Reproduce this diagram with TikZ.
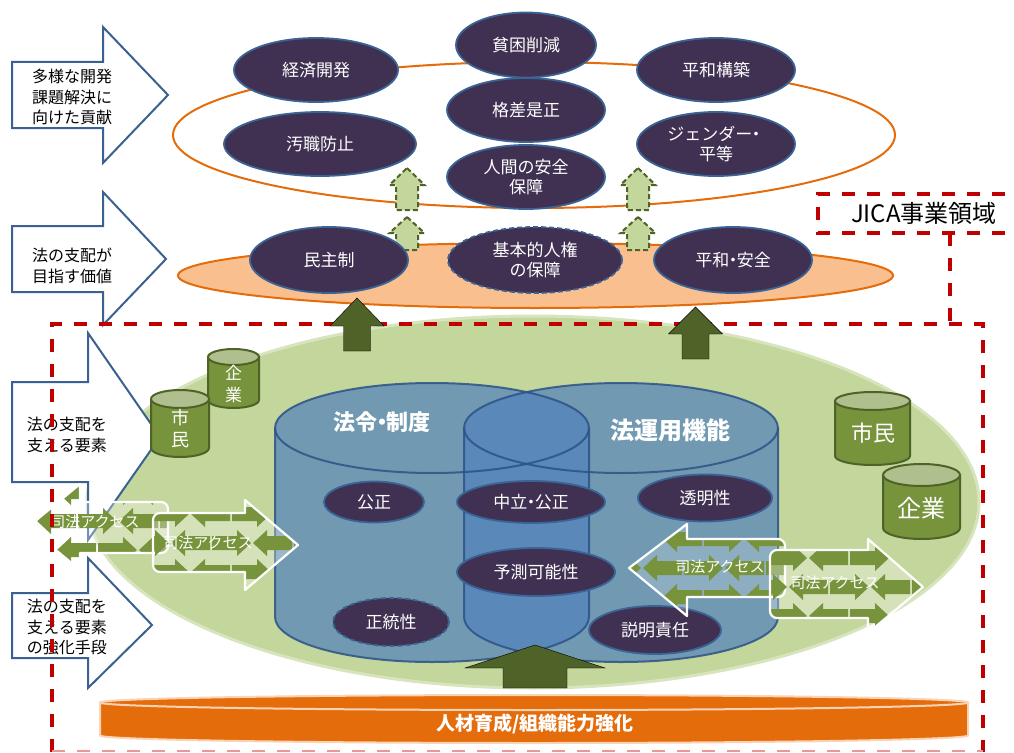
\documentclass[tikz,border=0pt]{standalone}
\usepackage{fontspec}
\setmainfont{Noto Sans CJK JP}
\usetikzlibrary{shapes.geometric}

\definecolor{pdark}{HTML}{403152}
\definecolor{pedge}{HTML}{3A6396}
\definecolor{orng}{HTML}{E46C0A}
\definecolor{orngl}{HTML}{F9BF8F}
\definecolor{orngrim}{HTML}{FAD3B4}
\definecolor{gell}{HTML}{C3D69B}
\definecolor{gellrim}{HTML}{D7E4BD}
\definecolor{olive}{HTML}{4F6228}
\definecolor{gcyl}{HTML}{77933C}
\definecolor{gtop}{HTML}{AFC08E}
\definecolor{cylblue}{HTML}{4F81BD}
\definecolor{cyledge}{HTML}{2D5288}
\definecolor{arrowedge}{HTML}{3B6190}
\definecolor{jred}{HTML}{C00000}

\tikzset{
  goal/.style={ellipse, fill=pdark, draw=pedge, line width=1.8pt, text=white,
    font=\fontsize{17}{20}\selectfont, align=center, inner sep=0pt},
  bigarrow/.style={fill=white, draw=arrowedge, line width=2pt, line join=miter},
  armtext/.style={font=\fontsize{16}{20.5}\selectfont, align=center, text=black},
  liftarrow/.style={fill=gell, draw=olive, line width=2pt, dash pattern=on 5pt off 3pt},
  solidup/.style={fill=olive},
  jica/.style={draw=jred, line width=3.5pt, dash pattern=on 13pt off 12pt},
  access/.style={draw=white, line width=2.2pt, line join=round},
  minigreen/.style={fill=gcyl},
  acctext/.style={text=white, font=\fontsize{15}{18}\selectfont},
  cyltitle/.style={text=white, font=\bfseries\fontsize{22}{26}\selectfont},
  gcyltext/.style={text=white, align=center},
}

% narrow middle dot between words
\newcommand{\nd}{\hspace{-0.28em}・\hspace{-0.28em}}

% upward block arrow: style, cx, tip y, head base y, half head, half shaft, bottom y
\newcommand{\upblock}[7]{%
  \filldraw[#1] (#2,#3) -- ({#2+#5},#4) -- ({#2+#6},#4) -- ({#2+#6},#7)
    -- ({#2-#6},#7) -- ({#2-#6},#4) -- ({#2-#5},#4) -- cycle;}

% green drum: cx, top y, bottom y, rx, ry
\newcommand{\greendrum}[5]{%
  \filldraw[fill=gcyl, draw=olive, line width=2pt] ({#1-#4},#2) -- ({#1-#4},#3)
    arc[start angle=180, end angle=0, x radius=#4, y radius=#5] -- ({#1+#4},#2) -- cycle;
  \filldraw[fill=gtop, draw=olive, line width=2pt] (#1,#2) ellipse [x radius=#4, y radius=#5];}

% translucent blue drum: fill and outline
\newcommand{\bluedrumfill}[5]{%
  \fill[cylblue, opacity=0.7] ({#1-#4},#2) arc[start angle=180, end angle=360, x radius=#4, y radius=#5]
    -- ({#1+#4},#3) arc[start angle=0, end angle=180, x radius=#4, y radius=#5] -- cycle;}
\newcommand{\bluedrumedge}[5]{%
  \draw[cyledge, line width=2pt, draw opacity=0.85] ({#1-#4},#2) arc[start angle=180, end angle=360, x radius=#4, y radius=#5]
    -- ({#1+#4},#3) arc[start angle=0, end angle=180, x radius=#4, y radius=#5] -- cycle;
  \draw[cyledge, line width=2pt, draw opacity=0.85] ({#1-#4},#2) arc[start angle=180, end angle=0, x radius=#4, y radius=#5];}

% small interlocking arrows used as the access-arrow pattern
\newcommand{\smallR}[2]{\fill[minigreen] (#1,#2-7) -- ++(25,0) -- ++(0,-6) -- ++(14,13) -- ++(-14,13) -- ++(0,-6) -- ++(-25,0) -- cycle;}
\newcommand{\smallL}[2]{\fill[minigreen] (#1+39,#2-7) -- ++(-25,0) -- ++(0,-6) -- ++(-14,13) -- ++(14,13) -- ++(0,-6) -- ++(25,0) -- cycle;}
\newcommand{\minirow}[3]{\foreach \k in {0,...,#3}{\pgfmathsetmacro\xx{#2+41*\k}\ifodd\k\relax\smallL{\xx}{#1}\else\smallR{\xx}{#1}\fi}}
\newcommand{\accesspat}[4]{\foreach \r in {0,...,#3}{\pgfmathsetmacro\yy{#2+29*\r}\pgfmathsetmacro\xs{#1-20*mod(\r,2)}\minirow{\yy}{\xs}{#4}}}

% access arrow outlines
\newcommand{\accA}{(28,527) -- (80,484) -- (80,502) [rounded corners=7pt] -- (168,502) -- (168,553) [sharp corners] -- (80,553) -- (80,570) -- cycle}
\newcommand{\accB}{(298,545) -- (245,500) -- (245,513) [rounded corners=7pt] -- (153,513) -- (153,572) [sharp corners] -- (245,572) -- (245,590) -- cycle}
\newcommand{\accC}{(629,568) -- (687,524) -- (687,539) [rounded corners=7pt] -- (785,539) -- (785,597) [sharp corners] -- (687,597) -- (687,616) -- cycle}
\newcommand{\accD}{(923,587) -- (868,539) -- (868,550) [rounded corners=7pt] -- (770,550) -- (770,618) [sharp corners] -- (868,618) -- (868,633) -- cycle}

\begin{document}
\begin{tikzpicture}[x=1pt, y=-1pt]
\useasboundingbox (0,0) rectangle (1014,752);

% level arrows at the top
\filldraw[bigarrow] (12,62) -- (103,62) -- (103,27) -- (168,95) -- (103,163) -- (103,128) -- (12,128) -- cycle;
\node[armtext] (lvl1) at (72,97) {多様な開発\\課題解決に\\向けた貢献};
\filldraw[bigarrow] (12,226) -- (103,226) -- (103,192) -- (166,259) -- (103,325) -- (103,292) -- (12,292) -- cycle;
\node[armtext] (lvl2) at (72,266) {法の支配が\\目指す価値};

% development goals ring and values ring
\node[ellipse, draw=orng, line width=2pt, minimum width=722, minimum height=146, inner sep=0pt] (goalring) at (534,135) {};
\node[ellipse, fill=orngl, draw=orng, line width=2pt, minimum width=715, minimum height=65, inner sep=0pt] (valuering) at (535.5,275.5) {};

% dashed lift arrows
\upblock{liftarrow}{407}{168}{185}{17.5}{11}{210}
\upblock{liftarrow}{407}{217}{233}{17.5}{11}{250}
\upblock{liftarrow}{638}{168}{185}{17.5}{11}{210}
\upblock{liftarrow}{638}{217}{233}{17.5}{11}{250}

% goals
\node[goal, minimum width=164, minimum height=64] (keizai) at (316,70) {経済開発};
\node[goal, minimum width=140, minimum height=65] (hinkon) at (526,45) {貧困削減};
\node[goal, minimum width=158, minimum height=64] (heiwakouchiku) at (716,70) {平和構築};
\node[goal, minimum width=158, minimum height=64] (kakusa) at (526,110) {格差是正};
\node[goal, minimum width=192, minimum height=64] (oshoku) at (320,144) {汚職防止};
\node[goal, minimum width=158, minimum height=64] (gender) at (716,144) {ジェンダー\nd\\平等};
\node[goal, minimum width=158, minimum height=64] (ningen) at (526,177) {人間の安全\\保障};

% values
\node[goal, minimum width=158, minimum height=66] (minshu) at (329,260) {民主制};
\node[goal, minimum width=174, minimum height=66, dash pattern=on 5pt off 3pt] (jinken) at (535,260) {基本的人権\\の保障};
\node[goal, minimum width=158, minimum height=66] (anzen) at (733,260) {平和\nd 安全};

% supporting elements area
\node[ellipse, fill=gell, draw=gellrim, line width=3pt, minimum width=892, minimum height=372, inner sep=0pt] (elements) at (533,502) {};

% level arrows at the bottom
\filldraw[bigarrow] (12,382) -- (88,382) -- (88,333) -- (160,437) -- (88,540) -- (88,482) -- (12,482) -- cycle;
\node[armtext] (lvl3) at (67,435) {法の支配を\\支える要素};
\filldraw[bigarrow] (12,593) -- (88,593) -- (88,558) -- (152,625) -- (88,688) -- (88,658) -- (12,658) -- cycle;
\node[armtext] (lvl4) at (67,627) {法の支配を\\支える要素\\の強化手段};

% legal framework and legal practice drums
\bluedrumfill{432}{428}{617}{157}{45}
\bluedrumfill{621}{428}{617}{157}{45}
\bluedrumedge{432}{428}{617}{157}{45}
\bluedrumedge{621}{428}{617}{157}{45}
\node[cyltitle] (hourei) at (382,422) {法令\nd 制度};
\node[cyltitle, font=\bfseries\fontsize{24}{28}\selectfont] (unyou) at (670,430) {法運用機能};

\node[goal, minimum width=100, minimum height=41] (kousei) at (374,502) {公正};
\node[goal, minimum width=148, minimum height=42] (chuuritsu) at (531,502) {中立\nd 公正};
\node[goal, minimum width=134, minimum height=47] (toumei) at (705,498) {透明性};
\node[goal, minimum width=158, minimum height=48] (yosoku) at (536,572) {予測可能性};
\node[goal, minimum width=116, minimum height=48, dash pattern=on 5pt off 3pt] (seitou) at (391,622) {正統性};
\node[goal, minimum width=132, minimum height=48] (setsumei) at (655,630) {説明責任};

% citizens and companies
\greendrum{233.5}{357}{400}{25.5}{8}
\node[gcyltext, font=\fontsize{17}{22}\selectfont] (kigyo1) at (233.5,384) {企\\業};
\greendrum{180}{399}{448}{29}{9}
\node[gcyltext, font=\fontsize{18}{22}\selectfont] (shimin1) at (180,429) {市\\民};
\greendrum{872.5}{401}{456}{37.5}{9}
\node[gcyltext, font=\fontsize{22}{26}\selectfont] (shimin2) at (873,433) {市民};
\greendrum{921.5}{475}{528}{38.5}{11}
\node[gcyltext, font=\fontsize{24}{28}\selectfont] (kigyo2) at (921.5,508) {企業};

% access to justice arrows
\begin{scope}
  \clip \accA;
  \fill[white, opacity=0.3] (0,470) rectangle (200,600);
  \accesspat{16}{492}{3}{4}
\end{scope}
\draw[access] \accA;
\node[acctext] (accessA) at (95,522) {司法アクセス};

\begin{scope}
  \clip \accB;
  \fill[white, opacity=0.3] (140,490) rectangle (310,600);
  \accesspat{150}{514}{3}{4}
\end{scope}
\draw[access] \accB;
\node[acctext] (accessB) at (208,543) {司法アクセス};

\begin{scope}
  \clip \accC;
  \fill[white, opacity=0.2] (620,515) rectangle (800,625);
  \accesspat{622}{539}{3}{4}
\end{scope}
\draw[access] \accC;
\node[acctext] (accessC) at (720,567) {司法アクセス};

\begin{scope}
  \clip \accD;
  \fill[white, opacity=0.3] (760,530) rectangle (930,640);
  \accesspat{768}{558}{3}{4}
\end{scope}
\draw[access] \accD;
\node[acctext] (accessD) at (835,583) {司法アクセス};

% capacity development base
\upblock{solidup}{535}{645}{668}{70}{32}{688}
\filldraw[fill=orng, draw=orngrim, line width=2pt] (100,702.5)
  arc[start angle=180, end angle=360, x radius=434, y radius=7.5] -- (968,735.5)
  arc[start angle=0, end angle=180, x radius=434, y radius=7.5] -- cycle;
\draw[orngrim, line width=2pt] (100,702.5) arc[start angle=180, end angle=0, x radius=434, y radius=7.5];
\node[text=white, font=\bfseries\fontsize{19}{22}\selectfont] (jinzai) at (535,724) {人材育成/組織能力強化};

% JICA scope
\draw[jica] (52,752) -- (52,324) -- (983,324) -- (983,752);
\draw[jica] (950,233) -- (950,324);
\draw[jica] (1030,194) -- (818,194) -- (818,233) -- (1030,233);
\draw[jred!40, line width=2.5pt, dash pattern=on 13pt off 12pt] (52,751) -- (983,751);
\node[font=\fontsize{24}{28}\selectfont, text=black] (jicalabel) at (924,213) {JICA事業領域};

% upward arrows into the values ring
\upblock{solidup}{357}{298}{326}{27}{13.5}{351}
\upblock{solidup}{695.5}{307}{334}{27}{13.5}{359}

\end{tikzpicture}
\end{document}
